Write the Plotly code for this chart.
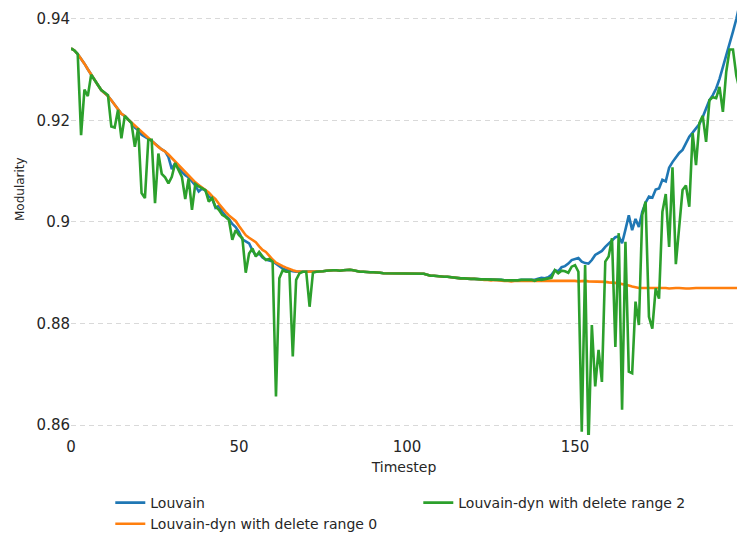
import plotly.graph_objects as go

timesteps = list(range(200))

louvain = [
    0.9342, 0.9338, 0.9331, 0.9322, 0.9312, 0.9301, 0.9290, 0.9280, 0.9270, 0.9260,
    0.9254, 0.9248, 0.9240, 0.9232, 0.9222, 0.9213, 0.9209, 0.9202, 0.9196, 0.9186,
    0.9181, 0.9172, 0.9168, 0.9165, 0.9160, 0.9154, 0.9148, 0.9143, 0.9139, 0.9128,
    0.9104, 0.9116, 0.9110, 0.9098, 0.9092, 0.9088, 0.9080, 0.9072, 0.9060, 0.9066,
    0.9062, 0.9050, 0.9046, 0.9028, 0.9032, 0.9020, 0.9012, 0.9006, 0.8996, 0.8990,
    0.8980, 0.8966, 0.8962, 0.8958, 0.8944, 0.8934, 0.8938, 0.8930, 0.8926, 0.8924,
    0.8922, 0.8918, 0.8912, 0.8908, 0.8906, 0.8904, 0.8903, 0.8902, 0.8902, 0.8902,
    0.8902, 0.8902, 0.8902, 0.8902, 0.8902, 0.8903, 0.8904, 0.8905, 0.8905, 0.8905,
    0.8904, 0.8905, 0.8906, 0.8906, 0.8905, 0.8903, 0.8902, 0.8902, 0.8901, 0.8901,
    0.8901, 0.8901, 0.8900, 0.8899, 0.8899, 0.8898, 0.8898, 0.8899, 0.8898, 0.8898,
    0.8899, 0.8898, 0.8899, 0.8899, 0.8899, 0.8898, 0.8896, 0.8894, 0.8894, 0.8893,
    0.8893, 0.8892, 0.8892, 0.8891, 0.8890, 0.8889, 0.8889, 0.8889, 0.8888, 0.8888,
    0.8888, 0.8887, 0.8887, 0.8887, 0.8887, 0.8886, 0.8887, 0.8886, 0.8886, 0.8885,
    0.8885, 0.8884, 0.8885, 0.8885, 0.8886, 0.8886, 0.8886, 0.8886, 0.8886, 0.8888,
    0.8890, 0.8889, 0.8891, 0.8896, 0.8905, 0.8903, 0.8911, 0.8913, 0.8918, 0.8925,
    0.8927, 0.8929, 0.8922, 0.8919, 0.8918, 0.8925, 0.8935, 0.8939, 0.8943, 0.8951,
    0.8957, 0.8964, 0.8970, 0.8972, 0.8958, 0.8985, 0.9013, 0.8984, 0.9006, 0.8990,
    0.9020, 0.9038, 0.9050, 0.9048, 0.9064, 0.9066, 0.9083, 0.9080, 0.9107, 0.9118,
    0.9128, 0.9136, 0.9142, 0.9155, 0.9168, 0.9176, 0.9185, 0.9193, 0.9207, 0.9222,
    0.9240, 0.9250, 0.9263, 0.9282, 0.9305, 0.9325, 0.9352, 0.9375, 0.9400, 0.9430,
]

dyn_range0 = [
    0.9342, 0.9338, 0.9331, 0.9322, 0.9312, 0.9301, 0.9290, 0.9280, 0.9270, 0.9260,
    0.9254, 0.9248, 0.9240, 0.9232, 0.9222, 0.9213, 0.9209, 0.9202, 0.9196, 0.9190,
    0.9185, 0.9178, 0.9172, 0.9165, 0.9160, 0.9154, 0.9148, 0.9143, 0.9139, 0.9133,
    0.9126, 0.9118, 0.9112, 0.9104, 0.9097, 0.9090, 0.9084, 0.9078, 0.9073, 0.9068,
    0.9064, 0.9058, 0.9051, 0.9045, 0.9036, 0.9027, 0.9020, 0.9013, 0.9008, 0.9002,
    0.8992, 0.8982, 0.8974, 0.8969, 0.8965, 0.8960, 0.8952, 0.8945, 0.8941, 0.8933,
    0.8926, 0.8920, 0.8916, 0.8913, 0.8910, 0.8907, 0.8905, 0.8903, 0.8902, 0.8902,
    0.8902, 0.8902, 0.8902, 0.8902, 0.8902, 0.8903, 0.8904, 0.8905, 0.8905, 0.8905,
    0.8904, 0.8905, 0.8906, 0.8906, 0.8905, 0.8903, 0.8902, 0.8902, 0.8901, 0.8901,
    0.8901, 0.8901, 0.8900, 0.8899, 0.8899, 0.8898, 0.8898, 0.8899, 0.8898, 0.8898,
    0.8899, 0.8898, 0.8899, 0.8899, 0.8899, 0.8898, 0.8896, 0.8894, 0.8894, 0.8893,
    0.8893, 0.8892, 0.8892, 0.8891, 0.8890, 0.8889, 0.8889, 0.8889, 0.8888, 0.8888,
    0.8888, 0.8887, 0.8887, 0.8886, 0.8886, 0.8885, 0.8886, 0.8885, 0.8885, 0.8884,
    0.8884, 0.8883, 0.8884, 0.8884, 0.8885, 0.8885, 0.8885, 0.8885, 0.8884, 0.8884,
    0.8884, 0.8884, 0.8884, 0.8884, 0.8884, 0.8885, 0.8885, 0.8884, 0.8884, 0.8884,
    0.8884, 0.8883, 0.8884, 0.8884, 0.8883, 0.8883, 0.8882, 0.8883, 0.8882, 0.8882,
    0.8881, 0.8881, 0.8880, 0.8879, 0.8878, 0.8877, 0.8875, 0.8873, 0.8871, 0.8870,
    0.8870, 0.8870, 0.8870, 0.8870, 0.8871, 0.8870, 0.8870, 0.8870, 0.8869, 0.8870,
    0.8870, 0.8870, 0.8869, 0.8869, 0.8869, 0.8870, 0.8870, 0.8870, 0.8870, 0.8869,
    0.8869, 0.8869, 0.8870, 0.8870, 0.8870, 0.8870, 0.8870, 0.8870, 0.8870, 0.8870,
]

dyn_range2 = [
    0.9342, 0.9338, 0.9331, 0.9171, 0.9261, 0.9248, 0.9290, 0.9280, 0.9270, 0.9260,
    0.9255, 0.9250, 0.9188, 0.9186, 0.9221, 0.9165, 0.9209, 0.9202, 0.9195, 0.9148,
    0.9185, 0.9057, 0.9047, 0.9162, 0.9162, 0.9037, 0.9135, 0.9095, 0.9088, 0.9076,
    0.9089, 0.9116, 0.9102, 0.9089, 0.9045, 0.9086, 0.9024, 0.9075, 0.9070, 0.9066,
    0.9063, 0.9040, 0.9047, 0.9030, 0.9024, 0.9014, 0.9010, 0.9004, 0.8965, 0.8984,
    0.8974, 0.8968, 0.8900, 0.8938, 0.8948, 0.8932, 0.8941, 0.8932, 0.8925, 0.8927,
    0.8922, 0.8656, 0.8889, 0.8905, 0.8902, 0.8902, 0.8735, 0.8886, 0.8899, 0.8902,
    0.8902, 0.8833, 0.8900, 0.8902, 0.8902, 0.8903, 0.8904, 0.8905, 0.8905, 0.8905,
    0.8904, 0.8905, 0.8906, 0.8906, 0.8905, 0.8903, 0.8902, 0.8902, 0.8901, 0.8901,
    0.8901, 0.8901, 0.8900, 0.8899, 0.8899, 0.8898, 0.8898, 0.8899, 0.8898, 0.8898,
    0.8899, 0.8898, 0.8899, 0.8899, 0.8899, 0.8898, 0.8896, 0.8894, 0.8894, 0.8893,
    0.8893, 0.8892, 0.8892, 0.8891, 0.8890, 0.8889, 0.8889, 0.8889, 0.8888, 0.8888,
    0.8888, 0.8887, 0.8887, 0.8887, 0.8887, 0.8886, 0.8887, 0.8886, 0.8886, 0.8885,
    0.8885, 0.8884, 0.8885, 0.8885, 0.8886, 0.8886, 0.8886, 0.8886, 0.8884, 0.8887,
    0.8886, 0.8887, 0.8889, 0.8890, 0.8905, 0.8899, 0.8904, 0.8903, 0.8900, 0.8912,
    0.8915, 0.8902, 0.8587, 0.8915, 0.8560, 0.8797, 0.8676, 0.8748, 0.8685, 0.8922,
    0.8932, 0.8968, 0.8754, 0.8978, 0.8630, 0.8961, 0.8705, 0.8702, 0.8843, 0.8797,
    0.9014, 0.9040, 0.8813, 0.8790, 0.8869, 0.8849, 0.9020, 0.9055, 0.8951, 0.9108,
    0.8917, 0.8990, 0.9063, 0.9072, 0.9030, 0.9175, 0.9112, 0.9195, 0.9209, 0.9158,
    0.9240, 0.9246, 0.9244, 0.9266, 0.9217, 0.9296, 0.9340, 0.9340, 0.9288, 0.9260,
]

series_names = ["Louvain", "Louvain-dyn with delete range 0", "Louvain-dyn with delete range 2"]
series_colors = ["#1f77b4", "#ff7f0e", "#2ca02c"]
legend_ranks = [1, 3, 2]

y_tickvals = [0.86, 0.88, 0.90, 0.92, 0.94]
y_ticktext = ["0.86", "0.88", "0.9", "0.92", "0.94"]
x_tickvals = [0, 50, 100, 150]

fig = go.Figure()
for name, ys, color, rank in zip(series_names, [louvain, dyn_range0, dyn_range2], series_colors, legend_ranks):
    fig.add_trace(go.Scatter(x=timesteps, y=ys, mode="lines", name=name,
                             line=dict(color=color, width=2.6), legendrank=rank))

H = 540.0
plot_bottom = 435.0
font_family = "DejaVu Sans"
fig.update_layout(
    width=737, height=540,
    margin=dict(l=71, r=0, t=0, b=0),
    paper_bgcolor="white", plot_bgcolor="white",
    font=dict(family=font_family, size=14, color="#262626"),
    showlegend=True,
    legend=dict(orientation="h", x=0.059, xanchor="left", y=0.0, yanchor="bottom",
                entrywidth=263, entrywidthmode="pixels", font=dict(size=14),
                bgcolor="rgba(0,0,0,0)", tracegroupgap=0),
    xaxis=dict(range=[0, 198.2], tickvals=x_tickvals, showgrid=False, zeroline=False,
               showline=False, ticks="", tickfont=dict(size=15), automargin=False,
               ticklabelstandoff=1,
               title=dict(text="Timestep", font=dict(size=14), standoff=7)),
    yaxis=dict(domain=[(H - plot_bottom) / H, 1.0],
               range=[0.85803, 0.94374], tickvals=y_tickvals, ticktext=y_ticktext,
               showgrid=True, gridcolor="#d9d9d9", griddash="5px,4px", gridwidth=1,
               zeroline=False, showline=False, ticks="", tickfont=dict(size=15),
               automargin=False),
    annotations=[dict(text="Modularity", xref="paper", yref="paper",
                      x=(20 - 71) / 666, y=(H - 189) / H, showarrow=False,
                      textangle=-90, font=dict(size=12), xanchor="center", yanchor="middle")],
)

fig.write_html("out.html", config={"displayModeBar": False},
               post_script="document.body.style.margin='0';document.body.style.padding='0';")
